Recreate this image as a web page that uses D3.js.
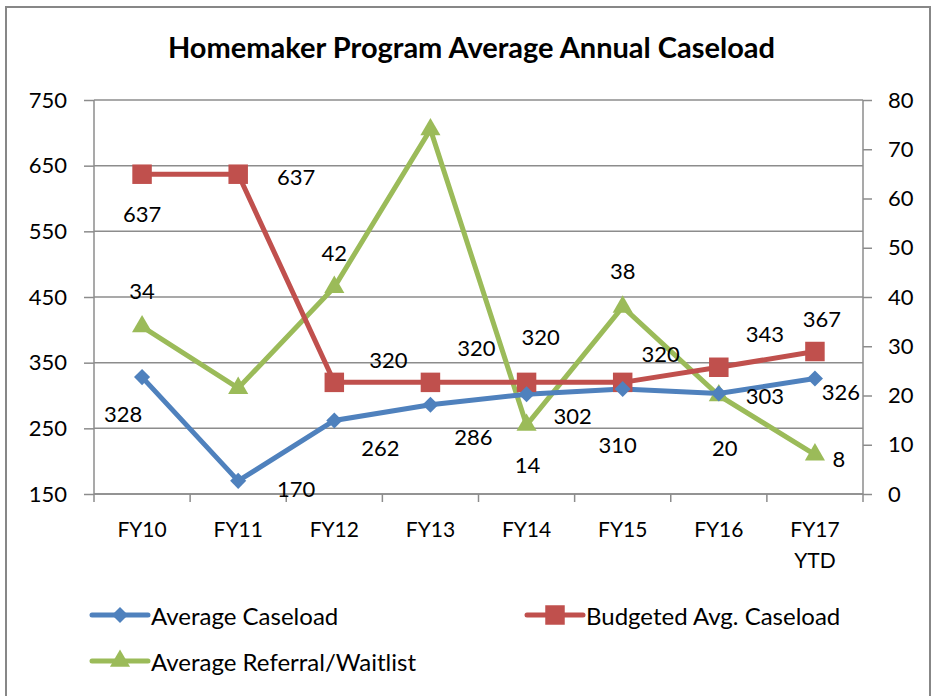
<!DOCTYPE html>
<html><head><meta charset="utf-8">
<script src="https://cdn.jsdelivr.net/npm/d3@7/dist/d3.min.js"></script>
<style>body{margin:0;background:#fff}svg{display:block}text{font-family:Lato,"Open Sans",sans-serif;fill:#000}</style>
</head><body><svg id="c" width="936" height="696"></svg>
<script>
const categories = ["FY10","FY11","FY12","FY13","FY14","FY15","FY16","FY17 YTD"];
const avgCaseload = [328,170,262,286,302,310,303,326];
const budgeted = [637,637,320,320,320,320,343,367];
const referral = [34,21.5,42,74,14,38,20,8];
const referralLabels = [true,false,true,false,true,true,true,true];
const leftTicks = [150,250,350,450,550,650,750];
const rightTicks = [0,10,20,30,40,50,60,70,80];
// label placement offsets (dx, dy from point)
const avgLabelPos = [[-19,36],[58,8],[46,27],[43,32],[46,21],[-5,56],[46,2],[26,13]];
const budLabelPos = [[0,39],[58,2],[54,-23],[46,-35],[14,-46],[38,-29],[46,-34],[7,-33]];
const refLabelPos = [[0,-36],[0,0],[0,-35],[0,0],[1,39],[0,-36],[6,52],[24,4]];

const svg = d3.select("#c");
const m = {l:94, r:863, t:100, b:494};
const x = d3.scaleBand().domain(categories).range([m.l, m.r]);
const yL = d3.scaleLinear().domain([150,750]).range([m.b, m.t]);
const yR = d3.scaleLinear().domain([0,80]).range([m.b, m.t]);
const cx = d => x(d) + x.bandwidth()/2;

// frame
svg.append("rect").attr("x",6).attr("y",7).attr("width",924).attr("height",700)
  .attr("fill","none").attr("stroke","#878787").attr("stroke-width",2);

// title
svg.append("text").attr("x",471.5).attr("y",58).attr("text-anchor","middle")
  .style("font-weight","bold").style("font-size","29px")
  .text("Homemaker Program Average Annual Caseload");

const gridColor = "#8c8c8c";
// gridlines
svg.append("g").selectAll("line").data(leftTicks).join("line")
  .attr("x1",m.l).attr("x2",m.r).attr("y1",d=>yL(d)).attr("y2",d=>yL(d))
  .attr("stroke",gridColor).attr("stroke-width",1.5);

// left axis
const gL = svg.append("g").attr("transform",`translate(${m.l},0)`)
  .call(d3.axisLeft(yL).tickValues(leftTicks).tickSize(10).tickPadding(17));
// right axis
const gR = svg.append("g").attr("transform",`translate(${m.r},0)`)
  .call(d3.axisRight(yR).tickValues(rightTicks).tickSize(9).tickPadding(16));
// bottom axis
const gB = svg.append("g").attr("transform",`translate(0,${m.b})`)
  .call(d3.axisBottom(x).tickSize(0).tickPadding(0));
[gL,gR,gB].forEach(g=>{
  g.select(".domain").attr("stroke",gridColor).attr("stroke-width",1.5);
  g.selectAll(".tick line").attr("stroke",gridColor).attr("stroke-width",1.5);
  g.selectAll("text").style("font-size","22px").attr("fill","#000").style("font-family","Lato, sans-serif");
});
gR.select(".domain").attr("d",`M0,${m.t}V${m.b}`);
gL.select(".domain").attr("d",`M0,${m.t}V${m.b}`);
gB.select(".domain").attr("d",`M${m.l},0H${m.r}`);
// category boundary ticks
svg.append("g").selectAll("line").data(d3.range(categories.length+1)).join("line")
  .attr("x1",i=>m.l+i*x.bandwidth()).attr("x2",i=>m.l+i*x.bandwidth())
  .attr("y1",m.b).attr("y2",m.b+8).attr("stroke",gridColor).attr("stroke-width",1.5);
// category labels (two lines)
gB.selectAll(".tick text").each(function(d){
  const t = d3.select(this); t.text(null).attr("y",43).attr("dy",null).style("font-size","21px");
  const parts = d.split(" ");
  parts.forEach((p,i)=>t.append("tspan").attr("x",0).attr("dy",i===0?0:31).text(p));
});

const blue="#4F81BD", red="#C0504D", green="#9BBB59";
const line = (ys,sc) => d3.line().x((d,i)=>cx(categories[i])).y(d=>sc(d))(ys);
const lw = 5;
// green
svg.append("path").attr("d",line(referral,yR)).attr("fill","none").attr("stroke",green).attr("stroke-width",lw);
// red
svg.append("path").attr("d",line(budgeted,yL)).attr("fill","none").attr("stroke",red).attr("stroke-width",lw);
// blue
svg.append("path").attr("d",line(avgCaseload,yL)).attr("fill","none").attr("stroke",blue).attr("stroke-width",lw);

// markers
const sq = d3.symbol().type(d3.symbolSquare).size(380);
const dia = d3.symbol().type(d3.symbolDiamond2).size(165);
const tri = d3.symbol().type(d3.symbolTriangle).size(175);
svg.append("g").selectAll("path").data(referral).join("path")
  .attr("d",tri).attr("fill",green)
  .attr("transform",(d,i)=>`translate(${cx(categories[i])},${yR(d)})`);
svg.append("g").selectAll("path").data(budgeted).join("path")
  .attr("d",sq).attr("fill",red)
  .attr("transform",(d,i)=>`translate(${cx(categories[i])},${yL(d)})`);
svg.append("g").selectAll("path").data(avgCaseload).join("path")
  .attr("d",dia).attr("fill",blue)
  .attr("transform",(d,i)=>`translate(${cx(categories[i])},${yL(d)})`);

// data labels
function labels(vals,sc,pos,show){
  const rows = vals.map((v,i)=>({v,i})).filter(d=>!show||show[d.i]);
  svg.append("g").selectAll("text").data(rows).join("text")
    .attr("x",d=>cx(categories[d.i])+pos[d.i][0])
    .attr("y",d=>sc(d.v)+pos[d.i][1])
    .attr("text-anchor","middle").attr("dominant-baseline","central")
    .style("font-size","22px").text(d=>Math.round(d.v));
}
labels(avgCaseload,yL,avgLabelPos);
labels(budgeted,yL,budLabelPos);
labels(referral,yR,refLabelPos,referralLabels);

// legend
const legend = [
  {name:"Average Caseload", color:blue, sym:dia, x:92, y:615},
  {name:"Budgeted Avg. Caseload", color:red, sym:sq, x:527, y:615},
  {name:"Average Referral/Waitlist", color:green, sym:tri, x:92, y:661}
];
const lg = svg.append("g").selectAll("g").data(legend).join("g")
  .attr("transform",d=>`translate(${d.x},${d.y})`);
lg.append("line").attr("x1",0).attr("x2",56).attr("stroke",d=>d.color).attr("stroke-width",lw).attr("stroke-linecap","round");
lg.append("path").attr("d",d=>d.sym()).attr("fill",d=>d.color).attr("transform","translate(28,0)");
lg.append("text").attr("x",59).attr("y",0).attr("dominant-baseline","central")
  .style("font-size","24px").text(d=>d.name);
</script></body></html>
